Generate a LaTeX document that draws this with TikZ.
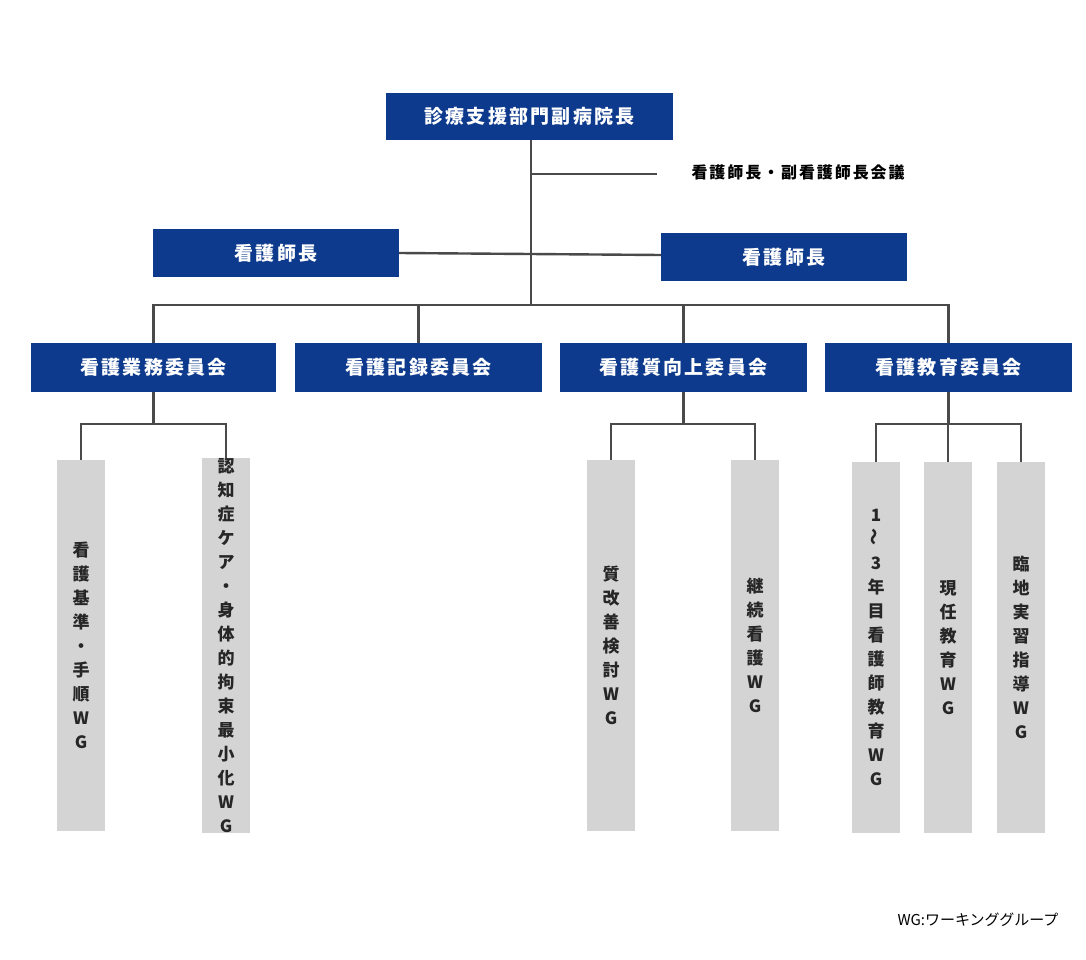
\documentclass[tikz,border=0pt]{standalone}
\usepackage{fontspec}
\newfontfamily\cjk{Noto Sans CJK JP}[LetterSpace=12]
\newfontfamily\cjkn{Noto Sans CJK JP}
\definecolor{navy}{HTML}{0D3A8C}
\definecolor{wg}{HTML}{D4D4D4}
\definecolor{ln}{HTML}{4A4A4A}
\begin{document}
\begin{tikzpicture}[x=1pt,y=-1pt,
  blue/.style={fill=navy,text=white,font=\cjk\bfseries\fontsize{19}{22}\selectfont,inner sep=0pt},
  gbox/.style={fill=wg,font=\cjkn\bfseries\fontsize{17}{24}\selectfont,align=center,inner sep=0pt,text=black!85},
  con/.style={draw=ln,line width=2.4pt}]
\useasboundingbox (0,0) rectangle (1086,960);
\node[blue,minimum width=287,minimum height=47] (top) at (529.5,116.5) {診療支援部門副病院長};
\node[font=\cjk\bfseries\fontsize{16}{20}\selectfont,anchor=west] (kaigi) at (688,172) {看護師長・副看護師長会議};
\coordinate (kb) at (531,174); \coordinate (ke) at (657,174);
\node[blue,minimum width=246,minimum height=48] (hl) at (276,253) {看護師長};
\node[blue,minimum width=246,minimum height=48] (hr) at (784,257) {看護師長};
\coordinate (hm) at (531,255);
\coordinate (bar) at (531,305);
\node[blue,minimum width=245,minimum height=49] (c1) at (153.5,367.5) {看護業務委員会};
\node[blue,minimum width=247,minimum height=49] (c2) at (418.5,367.5) {看護記録委員会};
\node[blue,minimum width=247,minimum height=49] (c3) at (683.5,367.5) {看護質向上委員会};
\node[blue,minimum width=247,minimum height=49] (c4) at (948.5,367.5) {看護教育委員会};
\draw[con] (top.south -| bar) -- (bar);
\draw[con] (kb) -- (ke);
\draw[con] (hl.east) -- (hr.west |- hm);
\draw[con] (c1.north) |- (c4.north |- bar) -- (c4.north);
\draw[con] (c2.north) -- (c2.north |- bar);
\draw[con] (c3.north) -- (c3.north |- bar);
% WG boxes
\node[gbox,minimum width=48,minimum height=371] (w1) at (81,645.5) {看\\護\\基\\準\\・\\手\\順\\W\\G};
\node[gbox,minimum width=48,minimum height=371] (w2) at (226,645.5) {認\\知\\症\\ケ\\ア\\・\\身\\体\\的\\拘\\束\\最\\小\\化\\W\\G};
\node[gbox,minimum width=48,minimum height=371] (w3) at (611,645.5) {質\\改\\善\\検\\討\\W\\G};
\node[gbox,minimum width=48,minimum height=371] (w4) at (755,645.5) {継\\続\\看\\護\\W\\G};
\node[gbox,minimum width=48,minimum height=371] (w5) at (876,647.5) {1\\\rotatebox{90}{～}\\3\\年\\目\\看\\護\\師\\教\\育\\W\\G};
\node[gbox,minimum width=48,minimum height=371] (w6) at (948,647.5) {現\\任\\教\\育\\W\\G};
\node[gbox,minimum width=48,minimum height=371] (w7) at (1021,647.5) {臨\\地\\実\\習\\指\\導\\W\\G};
\draw[con] (c1.south) -- ++(0,32) coordinate (b1);
\draw[con] (w1.north) |- (b1) -| (w2.north);
\draw[con] (c3.south) -- ++(0,32) coordinate (b3);
\draw[con] (w3.north) |- (b3) -| (w4.north);
\draw[con] (c4.south) -- ++(0,32) coordinate (b4);
\draw[con] (w5.north) |- (b4) -| (w7.north);
\draw[con] (w6.north) -- (w6.north |- b4);
\node[font=\cjkn\fontsize{15}{18}\selectfont,anchor=east] (note) at (1062,920) {WG:ワーキンググループ};
\end{tikzpicture}
\end{document}
